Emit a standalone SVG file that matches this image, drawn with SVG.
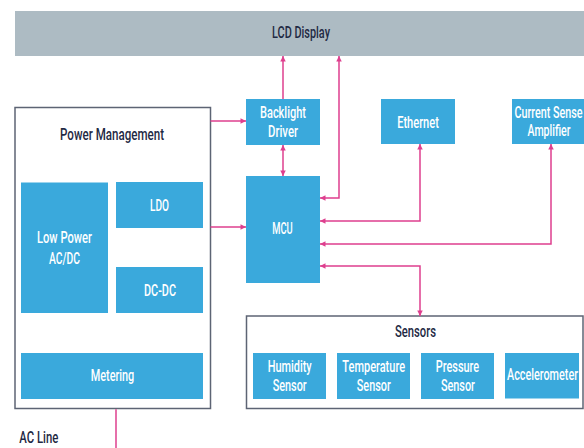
<svg xmlns="http://www.w3.org/2000/svg" width="584" height="448" viewBox="0 0 584 448">
<defs>
<style>
text{font-family:Roboto,"Liberation Sans",sans-serif;font-weight:500;font-size:16.5px;text-anchor:middle}
.w{fill:#ffffff}
.t{fill:#1f2a44}
.blk{fill:#3aa9dc}
.frame{fill:#ffffff;stroke:#5d6474;stroke-width:1.5}
.lcd{fill:#adbbc3}
.c{fill:none;stroke:#de3f8e;stroke-width:1.5}
</style>
<marker id="ah" viewBox="0 0 6 6" refX="6" refY="3" markerUnits="userSpaceOnUse" markerWidth="6" markerHeight="5.5" orient="auto-start-reverse">
<path d="M0,0 L6,3 L0,6 z" fill="#de3f8e"/>
</marker>
</defs>
<rect width="584" height="448" fill="#ffffff"/>

<g id="lcd">
<rect class="lcd" x="15" y="11" width="569" height="45"/>
<text class="t" x="301" y="38" textLength="58" lengthAdjust="spacingAndGlyphs">LCD Display</text>
</g>

<g id="power">
<rect class="frame" x="15" y="107.5" width="195.5" height="301"/>
<text class="t" x="112" y="140" textLength="104" lengthAdjust="spacingAndGlyphs">Power Management</text>
</g>
<g id="lowpower">
<rect class="blk" x="21" y="182.5" width="87" height="130.5"/>
<text class="w" x="64.5" y="243.3" textLength="55" lengthAdjust="spacingAndGlyphs">Low Power</text>
<text class="w" x="64.5" y="264" textLength="31" lengthAdjust="spacingAndGlyphs">AC/DC</text>
</g>
<g id="ldo">
<rect class="blk" x="116" y="182" width="87" height="46"/>
<text class="w" x="159.5" y="210.7" textLength="19" lengthAdjust="spacingAndGlyphs">LDO</text>
</g>
<g id="dcdc">
<rect class="blk" x="116" y="267" width="87" height="46"/>
<text class="w" x="160" y="295.7" textLength="32" lengthAdjust="spacingAndGlyphs">DC-DC</text>
</g>
<g id="metering">
<rect class="blk" x="21" y="353" width="182" height="46"/>
<text class="w" x="112.5" y="380.5" textLength="43.6" lengthAdjust="spacingAndGlyphs">Metering</text>
</g>

<g id="backlight">
<rect class="blk" x="246" y="99" width="74" height="46"/>
<text class="w" x="283" y="117.7" textLength="46" lengthAdjust="spacingAndGlyphs">Backlight</text>
<text class="w" x="283" y="137" textLength="30" lengthAdjust="spacingAndGlyphs">Driver</text>
</g>
<g id="ethernet">
<rect class="blk" x="381" y="99" width="74" height="45"/>
<text class="w" x="418" y="127.5" textLength="41.7" lengthAdjust="spacingAndGlyphs">Ethernet</text>
</g>
<g id="currentsense">
<rect class="blk" x="512" y="99" width="72" height="45"/>
<text class="w" x="548.5" y="117.5" textLength="68" lengthAdjust="spacingAndGlyphs">Current Sense</text>
<text class="w" x="549" y="136" textLength="43" lengthAdjust="spacingAndGlyphs">Amplifier</text>
</g>
<g id="mcu">
<rect class="blk" x="246" y="176" width="74" height="107"/>
<text class="w" x="282.5" y="234.3" textLength="20.5" lengthAdjust="spacingAndGlyphs">MCU</text>
</g>

<g id="sensors">
<rect class="frame" x="246.5" y="316" width="336.5" height="92.5"/>
<text class="t" x="415.5" y="337.3" textLength="41" lengthAdjust="spacingAndGlyphs">Sensors</text>
</g>
<g id="humidity">
<rect class="blk" x="253" y="353" width="73" height="46"/>
<text class="w" x="289.7" y="371.7" textLength="44" lengthAdjust="spacingAndGlyphs">Humidity</text>
<text class="w" x="289.7" y="390.7" textLength="34" lengthAdjust="spacingAndGlyphs">Sensor</text>
</g>
<g id="temperature">
<rect class="blk" x="337" y="353" width="73" height="46"/>
<text class="w" x="373.7" y="371.7" textLength="62.7" lengthAdjust="spacingAndGlyphs">Temperature</text>
<text class="w" x="373.8" y="390.7" textLength="34" lengthAdjust="spacingAndGlyphs">Sensor</text>
</g>
<g id="pressure">
<rect class="blk" x="421" y="353" width="73" height="46"/>
<text class="w" x="457.5" y="371.7" textLength="43.3" lengthAdjust="spacingAndGlyphs">Pressure</text>
<text class="w" x="457.9" y="390.7" textLength="34" lengthAdjust="spacingAndGlyphs">Sensor</text>
</g>
<g id="accelerometer">
<rect class="blk" x="505" y="353" width="74" height="45.5"/>
<text class="w" x="542.5" y="380" textLength="71" lengthAdjust="spacingAndGlyphs">Accelerometer</text>
</g>

<g id="acline">
<text class="t" x="19.3" y="443.3" style="text-anchor:start" textLength="39" lengthAdjust="spacingAndGlyphs">AC Line</text>
</g>

<g id="connectors">
<path class="c" d="M210.5,121 H246" marker-end="url(#ah)"/>
<path class="c" d="M210.5,227 H246" marker-end="url(#ah)"/>
<path class="c" d="M283,99 V56" marker-end="url(#ah)"/>
<path class="c" d="M283,145 V176" marker-start="url(#ah)" marker-end="url(#ah)"/>
<path class="c" d="M320,198 H339 V56" marker-start="url(#ah)" marker-end="url(#ah)"/>
<path class="c" d="M320,221 H420 V144" marker-start="url(#ah)" marker-end="url(#ah)"/>
<path class="c" d="M320,244 H551 V144" marker-start="url(#ah)" marker-end="url(#ah)"/>
<path class="c" d="M320,266 H420 V316" marker-start="url(#ah)" marker-end="url(#ah)"/>
<path class="c" d="M116,409.25 V448"/>
</g>
</svg>
